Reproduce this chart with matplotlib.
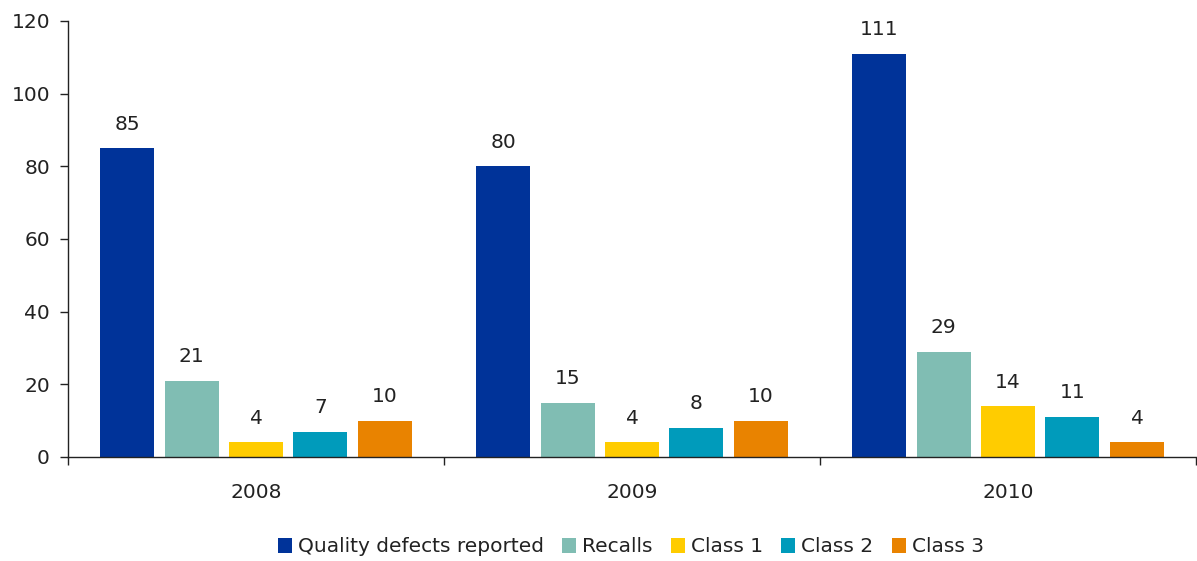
import matplotlib
matplotlib.use("Agg")
import matplotlib.pyplot as plt
from matplotlib.ticker import FixedLocator, NullFormatter
import numpy as np

years = ["2008", "2009", "2010"]
series_names = ["Quality defects reported", "Recalls", "Class 1", "Class 2", "Class 3"]
quality_defects = [85, 80, 111]
recalls = [21, 15, 29]
class1 = [4, 4, 14]
class2 = [7, 8, 11]
class3 = [10, 10, 4]
colors = ["#003399", "#80BDB3", "#FFCC00", "#009BBB", "#E98300"]

series = [quality_defects, recalls, class1, class2, class3]

plt.rcParams['font.family'] = ['DejaVu Sans']
fig = plt.figure(figsize=(11.97, 5.61), dpi=100)
ax = fig.add_axes([68/1197, 1-457/561, (1196-68)/1197, (457-21)/561])

x = np.arange(len(years))
step = 0.1715
width = 0.1436
fs = 14.5
for i, (name, vals, c) in enumerate(zip(series_names, series, colors)):
    pos = x + (i - 2) * step
    bars = ax.bar(pos, vals, width, color=c, label=name, zorder=2)
    for b, v in zip(bars, vals):
        ax.text(b.get_x() + b.get_width()/2, v + 4.0, str(v), ha='center', va='bottom',
                fontsize=fs, color='#222222')

ax.set_xlim(-0.5, 2.5)
ax.set_ylim(0, 120)
ax.set_yticks(range(0, 121, 20))
ax.xaxis.set_major_locator(FixedLocator([-0.5, 0.5, 1.5, 2.5]))
ax.xaxis.set_major_formatter(NullFormatter())
ax.xaxis.set_minor_locator(FixedLocator(x))
ax.set_xticklabels(years, minor=True)
ax.tick_params(axis='x', which='major', direction='out', length=6, width=1, color='#222222')
ax.tick_params(axis='x', which='minor', length=0, pad=19, labelsize=fs, labelcolor='#222222')
ax.tick_params(axis='y', direction='out', length=6, width=1, color='#222222', labelsize=fs,
               labelcolor='#222222', pad=7)
for s in ['top', 'right']:
    ax.spines[s].set_visible(False)
for s in ['left', 'bottom']:
    ax.spines[s].set_color('#222222')
    ax.spines[s].set_linewidth(1)

leg = fig.legend(loc='center', bbox_to_anchor=(0.527, 1-547/561), ncol=5, frameon=False,
                 fontsize=fs, handlelength=0.7, handleheight=0.7, handletextpad=0.3,
                 columnspacing=0.9)
for t in leg.get_texts():
    t.set_color('#222222')

fig.savefig("out.png", dpi=100)
